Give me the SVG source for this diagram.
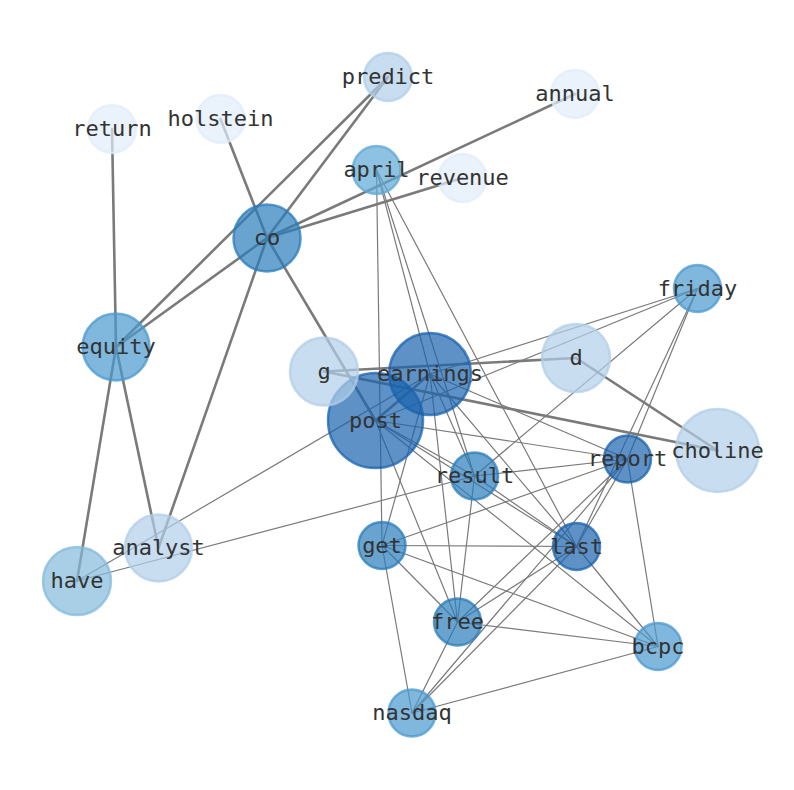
<svg xmlns="http://www.w3.org/2000/svg" width="794" height="790" viewBox="0 0 794 790">
<style>
.e{stroke:#7a7a7a;fill:none;stroke-linecap:round}
.t{stroke-width:1.2}
.k{stroke-width:2.6}
.n circle{stroke-width:2.5;fill-opacity:0.7;stroke-opacity:0.75}
.n text{font-family:"DejaVu Sans Mono","Liberation Mono",monospace;font-size:22px;fill:#333;text-anchor:middle}
.vl{fill:#e1ecf9;stroke:#e1ecf9}
.lt{fill:#b0cee8;stroke:#b0cee8}
.hv{fill:#83badb;stroke:#83badb}
.ap{fill:#5ea8d6;stroke:#5ea8d6}
.md{fill:#4a98cf;stroke:#4a98cf}
.bl{fill:#2a7cba;stroke:#2a7cba}
.dk{fill:#1a62ad;stroke:#1a62ad}
</style>
<rect width="794" height="790" fill="#ffffff"/>
<g id="edges">
<line class="e k" x1="112" y1="129" x2="116" y2="347"/>
<line class="e k" x1="220.5" y1="119" x2="267" y2="238"/>
<line class="e k" x1="388" y1="77" x2="267" y2="238"/>
<line class="e k" x1="388" y1="77" x2="116" y2="347"/>
<line class="e k" x1="575" y1="94" x2="267" y2="238"/>
<line class="e k" x1="462.5" y1="178" x2="267" y2="238"/>
<line class="e k" x1="267" y1="238" x2="116" y2="347"/>
<line class="e k" x1="267" y1="238" x2="158.5" y2="548"/>
<line class="e k" x1="267" y1="238" x2="375.5" y2="420.5"/>
<line class="e k" x1="116" y1="347" x2="77" y2="581"/>
<line class="e k" x1="116" y1="347" x2="158.5" y2="548"/>
<line class="e k" x1="324" y1="371.5" x2="576" y2="358"/>
<line class="e k" x1="324" y1="371.5" x2="717.5" y2="450.5"/>
<line class="e k" x1="576" y1="358" x2="717.5" y2="450.5"/>
<line class="e k" x1="375.5" y1="420.5" x2="430" y2="374"/>
<line class="e t" x1="376.5" y1="170" x2="382" y2="545.5"/>
<line class="e t" x1="376.5" y1="170" x2="430" y2="374"/>
<line class="e t" x1="376.5" y1="170" x2="474.5" y2="476"/>
<line class="e t" x1="376.5" y1="170" x2="576.5" y2="546.5"/>
<line class="e t" x1="697.5" y1="288.5" x2="430" y2="374"/>
<line class="e t" x1="697.5" y1="288.5" x2="375.5" y2="420.5"/>
<line class="e t" x1="697.5" y1="288.5" x2="474.5" y2="476"/>
<line class="e t" x1="697.5" y1="288.5" x2="627.5" y2="459"/>
<line class="e t" x1="697.5" y1="288.5" x2="576.5" y2="546.5"/>
<line class="e t" x1="77" y1="581" x2="430" y2="374"/>
<line class="e t" x1="77" y1="581" x2="474.5" y2="476"/>
<line class="e t" x1="430" y1="374" x2="627.5" y2="459"/>
<line class="e t" x1="430" y1="374" x2="576.5" y2="546.5"/>
<line class="e t" x1="430" y1="374" x2="457.5" y2="622"/>
<line class="e t" x1="430" y1="374" x2="382" y2="545.5"/>
<line class="e t" x1="430" y1="374" x2="474.5" y2="476"/>
<line class="e t" x1="375.5" y1="420.5" x2="627.5" y2="459"/>
<line class="e t" x1="375.5" y1="420.5" x2="576.5" y2="546.5"/>
<line class="e t" x1="375.5" y1="420.5" x2="658" y2="646.5"/>
<line class="e t" x1="375.5" y1="420.5" x2="457.5" y2="622"/>
<line class="e t" x1="375.5" y1="420.5" x2="474.5" y2="476"/>
<line class="e t" x1="474.5" y1="476" x2="627.5" y2="459"/>
<line class="e t" x1="474.5" y1="476" x2="457.5" y2="622"/>
<line class="e t" x1="474.5" y1="476" x2="576.5" y2="546.5"/>
<line class="e t" x1="382" y1="545.5" x2="576.5" y2="546.5"/>
<line class="e t" x1="382" y1="545.5" x2="627.5" y2="459"/>
<line class="e t" x1="382" y1="545.5" x2="457.5" y2="622"/>
<line class="e t" x1="382" y1="545.5" x2="658" y2="646.5"/>
<line class="e t" x1="382" y1="545.5" x2="412" y2="713"/>
<line class="e t" x1="576.5" y1="546.5" x2="658" y2="646.5"/>
<line class="e t" x1="576.5" y1="546.5" x2="457.5" y2="622"/>
<line class="e t" x1="576.5" y1="546.5" x2="412" y2="713"/>
<line class="e t" x1="576.5" y1="546.5" x2="627.5" y2="459"/>
<line class="e t" x1="627.5" y1="459" x2="457.5" y2="622"/>
<line class="e t" x1="627.5" y1="459" x2="412" y2="713"/>
<line class="e t" x1="627.5" y1="459" x2="658" y2="646.5"/>
<line class="e t" x1="457.5" y1="622" x2="658" y2="646.5"/>
<line class="e t" x1="457.5" y1="622" x2="412" y2="713"/>
<line class="e t" x1="658" y1="646.5" x2="412" y2="713"/>
</g>
<g id="node-return" class="n"><circle class="vl" cx="112" cy="129" r="24"/><text x="112" y="136">return</text></g>
<g id="node-holstein" class="n"><circle class="vl" cx="220.5" cy="119" r="24"/><text x="220.5" y="126">holstein</text></g>
<g id="node-predict" class="n"><circle class="lt" cx="388" cy="77" r="24"/><text x="388" y="84">predict</text></g>
<g id="node-annual" class="n"><circle class="vl" cx="575" cy="94" r="24"/><text x="575" y="101">annual</text></g>
<g id="node-april" class="n"><circle class="ap" cx="376.5" cy="170" r="24"/><text x="376.5" y="177">april</text></g>
<g id="node-revenue" class="n"><circle class="vl" cx="462.5" cy="178" r="24"/><text x="462.5" y="185">revenue</text></g>
<g id="node-co" class="n"><circle class="bl" cx="267" cy="238" r="33.5"/><text x="267" y="245">co</text></g>
<g id="node-friday" class="n"><circle class="md" cx="697.5" cy="288.5" r="23.5"/><text x="697.5" y="295.5">friday</text></g>
<g id="node-equity" class="n"><circle class="md" cx="116" cy="347" r="33.5"/><text x="116" y="354">equity</text></g>
<g id="node-post" class="n"><circle class="dk" cx="375.5" cy="420.5" r="47.5"/><text x="375.5" y="427.5">post</text></g>
<g id="node-earnings" class="n"><circle class="dk" cx="430" cy="374" r="41"/><text x="430" y="381">earnings</text></g>
<g id="node-g" class="n"><circle class="lt" cx="324" cy="371.5" r="34"/><text x="324" y="378.5">g</text></g>
<g id="node-d" class="n"><circle class="lt" cx="576" cy="358" r="34"/><text x="576" y="365">d</text></g>
<g id="node-report" class="n"><circle class="dk" cx="627.5" cy="459" r="23.5"/><text x="627.5" y="466">report</text></g>
<g id="node-choline" class="n"><circle class="lt" cx="717.5" cy="450.5" r="41.5"/><text x="717.5" y="457.5">choline</text></g>
<g id="node-result" class="n"><circle class="bl" cx="474.5" cy="476" r="23.5"/><text x="474.5" y="483">result</text></g>
<g id="node-analyst" class="n"><circle class="lt" cx="158.5" cy="548" r="33.5"/><text x="158.5" y="555">analyst</text></g>
<g id="node-get" class="n"><circle class="bl" cx="382" cy="545.5" r="23.5"/><text x="382" y="552.5">get</text></g>
<g id="node-last" class="n"><circle class="dk" cx="576.5" cy="546.5" r="23.5"/><text x="576.5" y="553.5">last</text></g>
<g id="node-have" class="n"><circle class="hv" cx="77" cy="581" r="34"/><text x="77" y="588">have</text></g>
<g id="node-free" class="n"><circle class="bl" cx="457.5" cy="622" r="23.5"/><text x="457.5" y="629">free</text></g>
<g id="node-bcpc" class="n"><circle class="md" cx="658" cy="646.5" r="23.5"/><text x="658" y="653.5">bcpc</text></g>
<g id="node-nasdaq" class="n"><circle class="md" cx="412" cy="713" r="23.5"/><text x="412" y="720">nasdaq</text></g>
</svg>
